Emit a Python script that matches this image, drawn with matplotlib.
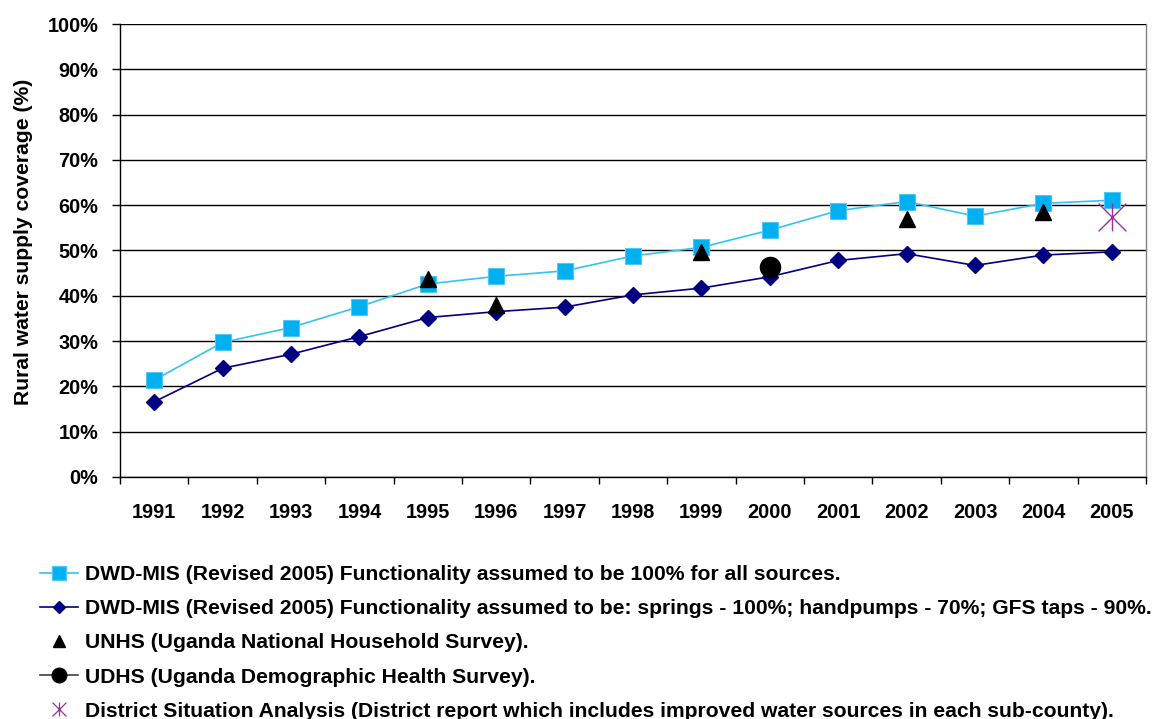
import matplotlib
matplotlib.use("Agg")
import matplotlib.pyplot as plt
from matplotlib.path import Path
from matplotlib.lines import Line2D
from matplotlib.ticker import FuncFormatter, FixedLocator

plt.rcParams['font.family'] = ['Liberation Sans', 'DejaVu Sans']

years = ['1991', '1992', '1993', '1994', '1995', '1996', '1997', '1998',
         '1999', '2000', '2001', '2002', '2003', '2004', '2005']
dwd_100 = [21.4, 29.7, 33.0, 37.6, 42.6, 44.3, 45.5, 48.8, 50.7, 54.5,
           58.8, 60.8, 57.6, 60.4, 61.1]
dwd_mixed = [16.6, 24.0, 27.1, 31.0, 35.2, 36.5, 37.5, 40.2, 41.7, 44.2,
             47.8, 49.3, 46.7, 49.0, 49.7]
unhs_years = ['1995', '1996', '1999', '2002', '2004']
unhs_vals = [43.6, 37.9, 49.7, 56.9, 58.6]
udhs_years = ['2000']
udhs_vals = [46.4]
dsa_years = ['2005']
dsa_vals = [57.5]

labels = [
    'DWD-MIS (Revised 2005) Functionality assumed to be 100% for all sources.',
    'DWD-MIS (Revised 2005) Functionality assumed to be: springs - 100%; handpumps - 70%; GFS taps - 90%.',
    'UNHS (Uganda National Household Survey).',
    'UDHS (Uganda Demographic Health Survey).',
    'District Situation Analysis (District report which includes improved water sources in each sub-county).',
]

LIGHT_LINE = '#33C4F4'
LIGHT_FILL = '#00B0F0'
NAVY = '#000080'
PURPLE = '#993399'

fig = plt.figure(figsize=(11.65, 7.19), dpi=100)
ax = fig.add_axes([0.103, 0.3366, 0.8807, 0.630])

idx = {y: i for i, y in enumerate(years)}
x = list(range(len(years)))

star_path = Path([(-1, -1), (1, 1), (-1, 1), (1, -1), (0, -1), (0, 1)],
                 [Path.MOVETO, Path.LINETO, Path.MOVETO, Path.LINETO,
                  Path.MOVETO, Path.LINETO])

ax.plot(x, dwd_100, '-', color=LIGHT_LINE, lw=1.2, marker='s', ms=12,
        mfc=LIGHT_FILL, mec='#4FC8F5', mew=0.8, zorder=3)
ax.plot(x, dwd_mixed, '-', color=NAVY, lw=1.2, marker='D', ms=8.5,
        mfc=NAVY, mec=NAVY, zorder=3)
ax.plot([idx[y] for y in unhs_years], unhs_vals, linestyle='none',
        marker='^', ms=12, color='black', zorder=4)
ax.plot([idx[y] for y in udhs_years], udhs_vals, '-', color='black',
        lw=1.2, marker='o', ms=14.5, zorder=4)
ax.plot([idx[y] for y in dsa_years], dsa_vals, linestyle='none',
        marker=star_path, ms=20, mew=1.0, color=PURPLE, mfc='none', zorder=5)

ax.set_xlim(-0.5, len(years) - 0.5)
ax.set_ylim(0, 100)
ax.set_yticks(range(0, 101, 10))
ax.yaxis.set_major_formatter(FuncFormatter(lambda v, p: f'{int(v)}%'))
ax.grid(axis='y', color='black', lw=1.0)
ax.set_axisbelow(True)

ax.xaxis.set_major_locator(FixedLocator([i - 0.5 for i in range(len(years) + 1)]))
ax.set_xticklabels([''] * (len(years) + 1))
ax.xaxis.set_minor_locator(FixedLocator(x))
ax.set_xticklabels(years, minor=True)
ax.tick_params(axis='x', which='minor', length=0, pad=19, labelsize=14.3)
ax.tick_params(axis='x', which='major', length=5, width=1, direction='out')
ax.tick_params(axis='y', length=5.5, width=1, direction='out', labelsize=14.3, pad=10)
for lab in ax.get_xticklabels(minor=True) + ax.get_yticklabels():
    lab.set_fontweight('bold')

for s in ax.spines.values():
    s.set_color('black')
    s.set_linewidth(1.0)
ax.spines['right'].set_color('#808080')
ax.spines['top'].set_visible(False)

ax.set_ylabel('Rural water supply coverage (%)', fontsize=15.2, fontweight='bold')
ax.yaxis.set_label_coords(-0.085, 0.52)

# legend proxies
p1 = Line2D([], [], color=LIGHT_LINE, lw=1.2, marker='s', ms=9.5,
            mfc=LIGHT_FILL, mec='#4FC8F5')
p2 = Line2D([], [], color=NAVY, lw=1.2, marker='D', ms=6.5, mfc=NAVY, mec=NAVY)
p3 = Line2D([], [], linestyle='none', marker='^', ms=9, color='black')
p4 = Line2D([], [], color='#404040', lw=1.2, marker='o', ms=10.5,
            mfc='black', mec='black')
p5 = Line2D([], [], linestyle='none', marker=star_path, ms=10, mew=0.9,
            color=PURPLE, mfc='none')

leg = fig.legend(handles=[p1, p2, p3, p4, p5], labels=labels, loc='upper left',
                 bbox_to_anchor=(0.0343, 0.2142), frameon=False,
                 prop={'size': 15.2, 'weight': 'bold'}, handlelength=1.8,
                 handletextpad=0.33, labelspacing=0.72, borderpad=0.0,
                 borderaxespad=0.0)

fig.savefig('out.png', dpi=100)
